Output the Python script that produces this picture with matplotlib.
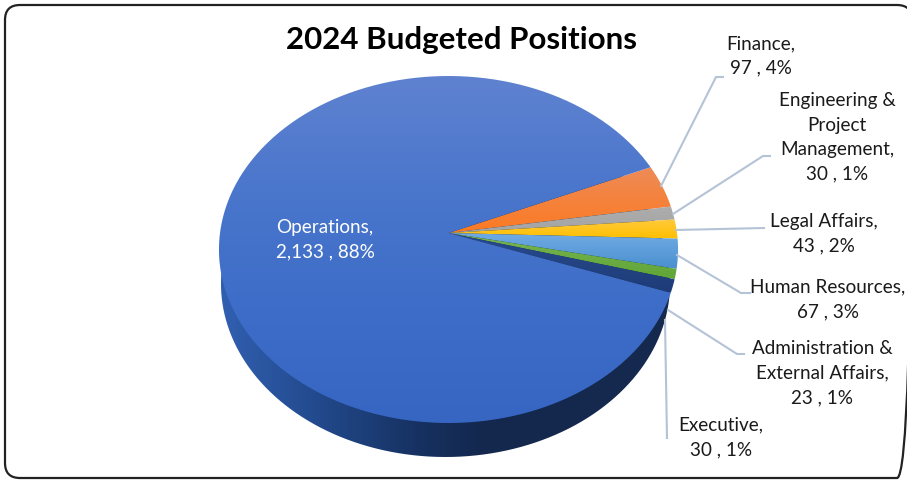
import matplotlib
matplotlib.use('Agg')
import matplotlib.pyplot as plt
import numpy as np
from matplotlib.colors import LinearSegmentedColormap
from matplotlib.patches import FancyBboxPatch, PathPatch
from matplotlib.path import Path

plt.rcParams['font.family'] = ['Lato', 'DejaVu Sans']

# clockwise from the top of Finance, as in the source chart
names = ['Finance', 'Engineering &\nProject\nManagement', 'Legal Affairs', 'Human Resources',
         'Administration &\nExternal Affairs', 'Executive', 'Operations']
positions = [97, 30, 43, 67, 23, 30, 2133]
percents = [4, 1, 2, 3, 1, 1, 88]

# vertical gradient of each slice, top to bottom
slice_colors = [['#ee8b58', '#fb7a22'], ['#adadad', '#a4a4a4'], ['#ffca3c', '#ffbf00'],
                ['#70abe3', '#4a8fd0'], ['#79b552', '#60a537'], ['#284b8e', '#1e3b77'],
                ['#5f82d0', '#4a76cc', '#3d6dc8', '#3666c2']]

label_pos = [(761, 56), (837, 137.5), (824, 233.5), (828, 299.5), (822, 373), (721, 437.5), (325, 239.5)]
leaders = [[(661, 186), (716, 77), (723, 77)],
           [(673, 214), (763, 156), (770, 156)],
           [(676, 230), (764, 228)],
           [(677, 255), (741, 293), (750, 293)],
           [(668, 310), (737, 354), (744, 354)],
           [(665, 320), (667, 438)]]

# pie geometry in pixels, the top face is a perspective view of the circle
APEX = (448.5, 233)
RX, TOP, BOTTOM = 228.5, 157, 190
K = (BOTTOM - TOP) / (BOTTOM + TOP)
RY = TOP * (1 + K)


def project(xy):
    w = 1 + K * xy[:, 1]
    return np.column_stack([APEX[0] + RX * xy[:, 0] / w, APEX[1] - RY * xy[:, 1] / w])


def unit_arc(theta1, theta2, n=400):
    t = np.radians(np.linspace(theta1, theta2, n))
    return np.column_stack([np.cos(t), np.sin(t)])


def gradient_fill(ax, poly, colors, horizontal=False, zorder=2):
    x0, y0 = poly.min(axis=0)
    x1, y1 = poly.max(axis=0)
    cmap = LinearSegmentedColormap.from_list('g', colors)
    g = np.linspace(0, 1, 256)
    g = g[None, :] if horizontal else g[:, None]
    im = ax.imshow(g, cmap=cmap, extent=(x0, x1, y1, y0), aspect='auto', origin='upper',
                   zorder=zorder, interpolation='bilinear')
    patch = PathPatch(Path(poly), transform=ax.transData, fc='none', ec='none')
    ax.add_patch(patch)
    im.set_clip_path(patch)


fig = plt.figure(figsize=(9.07, 4.8), dpi=100, facecolor='white')
ax = fig.add_axes([0, 0, 1, 1])
wedges, _ = ax.pie(positions, startangle=23.4, counterclock=False, radius=1)

polys = []
for w in wedges:
    arc = unit_arc(w.theta1, w.theta2)
    polys.append(project(np.vstack([[(0, 0)], arc, [(0, 0)]])))
    w.set_visible(False)

# side wall: the whole rim moved down and slightly narrowed
rim = project(unit_arc(0, 360))
mid_x = (rim[:, 0].min() + rim[:, 0].max()) / 2
side = rim.copy()
side[:, 0] = mid_x - 3 + (side[:, 0] - mid_x) * 225 / 230
side[:, 1] += 34
gradient_fill(ax, side, [(0, '#315fb0'), (0.2, '#234b8f'), (0.45, '#16305f'), (0.6, '#14274c'), (1, '#162a50')],
              horizontal=True, zorder=1)

for poly, colors in zip(polys, slice_colors):
    gradient_fill(ax, poly, colors, zorder=2)

for pts in leaders:
    xs, ys = zip(*pts)
    ax.plot(xs, ys, color='#b5c3d6', lw=1.5, zorder=3, solid_joinstyle='miter')

for name, n, pct, (x, y) in zip(names, positions, percents, label_pos):
    color = 'white' if name == 'Operations' else '#1a1a1a'
    ax.text(x, y, f'{name},\n{n:,} , {pct}%', color=color, ha='center', va='center',
            fontsize=13.6, linespacing=1.53, zorder=4)

ax.text(462, 40, '2024 Budgeted Positions', ha='center', va='center', fontsize=22.5,
        fontweight='bold', color='black', zorder=4)

ax.add_patch(FancyBboxPatch((20, 20), 877, 443, boxstyle='round,pad=15,rounding_size=15',
                            fc='none', ec='#222222', lw=1.6, zorder=5, clip_on=False))

ax.set_xlim(0, 907)
ax.set_ylim(480, 0)
ax.set_aspect('auto')
ax.axis('off')
fig.savefig('out.png', dpi=100)
